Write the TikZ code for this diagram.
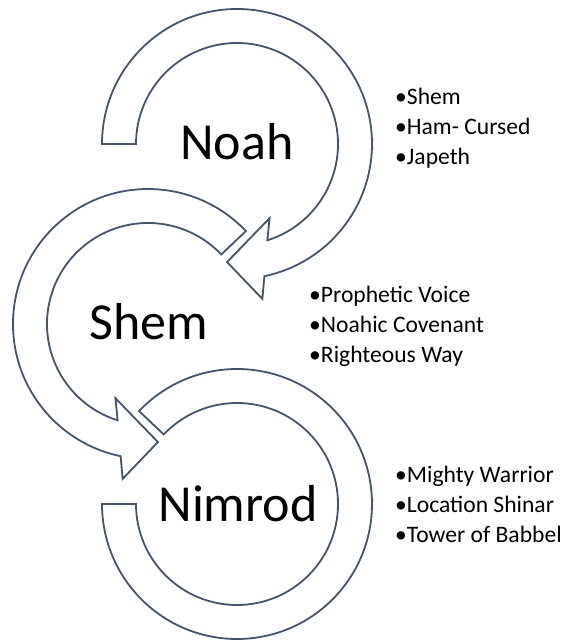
\documentclass[tikz,border=0pt]{standalone}
\usepackage{fontspec}
\setmainfont{Carlito}
\usetikzlibrary{calc}
\definecolor{ringline}{HTML}{44546A}
\begin{document}
\begin{tikzpicture}[x=1pt,y=1pt,
  ring/.style={draw=ringline, line width=1.8pt, fill=white, line join=miter},
  biglabel/.style={font=\fontsize{52}{60}\selectfont, inner sep=0pt, anchor=base},
  item/.style={font=\fontsize{23.6}{28}\selectfont, inner sep=0pt, anchor=base west}]
\useasboundingbox (0,0) rectangle (569,640);
\coordinate (cA) at (237,496);
\coordinate (cB) at (148,316);
\coordinate (cC) at (237,136);
% Noah ring
\draw[ring] ($(cA)+(180:135)$) arc[start angle=180, end angle=-78.3, radius=135]
  -- ($(cA)+(-80.7:157)$) -- ($(cA)+(-94.8:118.5)$) -- ($(cA)+(-66.3:81)$)
  -- ($(cA)+(-72.5:101)$) arc[start angle=-72.5, end angle=180, radius=101] -- cycle;
% Shem ring
\draw[ring] ($(cB)+(43.5:135)$) arc[start angle=43.5, end angle=258.3, radius=135]
  -- ($(cB)+(260.7:157)$) -- ($(cB)+(274.8:118.5)$) -- ($(cB)+(246.3:81)$)
  -- ($(cB)+(252.5:101)$) arc[start angle=252.5, end angle=43.5, radius=101] -- cycle;
% Nimrod ring
\draw[ring] ($(cC)+(136.5:135)$) arc[start angle=136.5, end angle=-180, radius=135]
  -- ($(cC)+(180:101)$) arc[start angle=-180, end angle=136.5, radius=101] -- cycle;
% labels
\node[biglabel] (noah) at (237,480) {Noah};
\node[biglabel] (shem) at (149,300) {Shem};
\node[biglabel] (nimrod) at (238,118) {Nimrod};
% lists
\node[item] (a1) at (395,535) {•Shem};
\node[item] (a2) at (395,505) {•Ham- Cursed};
\node[item] (a3) at (395,475) {•Japeth};
\node[item] (b1) at (309,337) {•Prophetic Voice};
\node[item] (b2) at (309,307) {•Noahic Covenant};
\node[item] (b3) at (309,277) {•Righteous Way};
\node[item] (c1) at (395,157) {•Mighty Warrior};
\node[item] (c2) at (395,127) {•Location Shinar};
\node[item] (c3) at (395,97) {•Tower of Babbel};
\end{tikzpicture}
\end{document}
